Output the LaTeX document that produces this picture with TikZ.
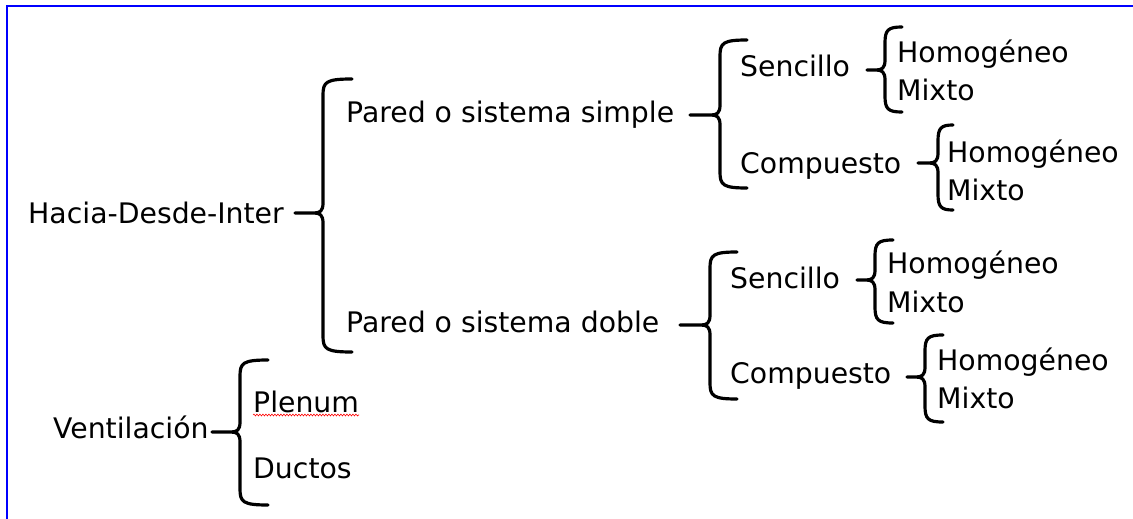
\documentclass[tikz,border=0pt]{standalone}
\usepackage{fontspec}
\setmainfont{DejaVu Sans}
\usetikzlibrary{decorations.pathmorphing}
\tikzset{
  lbl/.style={anchor=base west, inner sep=0pt, font=\fontsize{28.3}{30}\selectfont},
  bracestyle/.style={draw=black, line width=3.2pt, line cap=round, line join=round},
  frame/.style={draw={rgb,255:red,0;green,0;blue,255}, line width=2pt},
  spell/.style={draw=red, line width=0.6pt, decorate, decoration={snake, amplitude=0.9pt, segment length=3pt}}
}
% tx ty vx y1 y2 ex
\newcommand\mybrace[6]{%
  \draw[bracestyle] (#6,#4) .. controls ({#3+3},#4) and (#3,{#4+3}) .. (#3,{#4+16})
    -- (#3,{#2-10}) .. controls (#3,{#2-2}) and ({#3-3},#2) .. ({#3-9},#2) -- (#1,#2)
    -- ({#3-9},#2) .. controls ({#3-3},#2) and (#3,{#2+2}) .. (#3,{#2+10})
    -- (#3,{#5-16}) .. controls (#3,{#5-3}) and ({#3+3},#5) .. (#6,#5);}
\begin{document}
\begin{tikzpicture}[x=1pt,y=-1pt]
\useasboundingbox (0,0) rectangle (1133,519);
\fill[white] (0,0) rectangle (1133,519);
\draw[frame] (7,530) -- (7,6) -- (1140,6);

% level 0
\node[lbl] (hdi) at (28,223) {Hacia-Desde-Inter};
\node[lbl] (vent) at (53,438) {Ventilación};

% level 1
\node[lbl] (simple) at (346,122) {Pared o sistema simple};
\node[lbl] (doble) at (346,332) {Pared o sistema doble};
\node[lbl] (plenum) at (253,412) {Plenum};
\node[lbl] (ductos) at (253,478) {Ductos};

% level 2
\node[lbl] (sen1) at (740,77) {Sencillo};
\node[lbl] (com1) at (740,173) {Compuesto};
\node[lbl] (sen2) at (730,288) {Sencillo};
\node[lbl] (com2) at (730,383) {Compuesto};

% level 3
\node[lbl] (h1) at (897,63) {Homogéneo};
\node[lbl] (m1) at (897,100) {Mixto};
\node[lbl] (h2) at (947,162) {Homogéneo};
\node[lbl] (m2) at (947,200) {Mixto};
\node[lbl] (h3) at (887,273) {Homogéneo};
\node[lbl] (m3) at (887,312) {Mixto};
\node[lbl] (h4) at (937,370) {Homogéneo};
\node[lbl] (m4) at (937,408) {Mixto};

% spell-check underline
\draw[spell] ([yshift=-3pt]plenum.base west) -- ([yshift=-3pt]plenum.base east);

% braces
\mybrace{295}{213}{323}{79}{352}{352}
\mybrace{212}{432}{240}{360}{505}{268}
\mybrace{690}{115}{720}{40}{188}{747}
\mybrace{680}{325}{710}{252}{399}{737}
\mybrace{867}{70}{885}{27}{112}{902}
\mybrace{918}{163}{938}{125}{210}{953}
\mybrace{857}{280}{875}{240}{323}{893}
\mybrace{907}{377}{925}{335}{422}{943}
\end{tikzpicture}
\end{document}
